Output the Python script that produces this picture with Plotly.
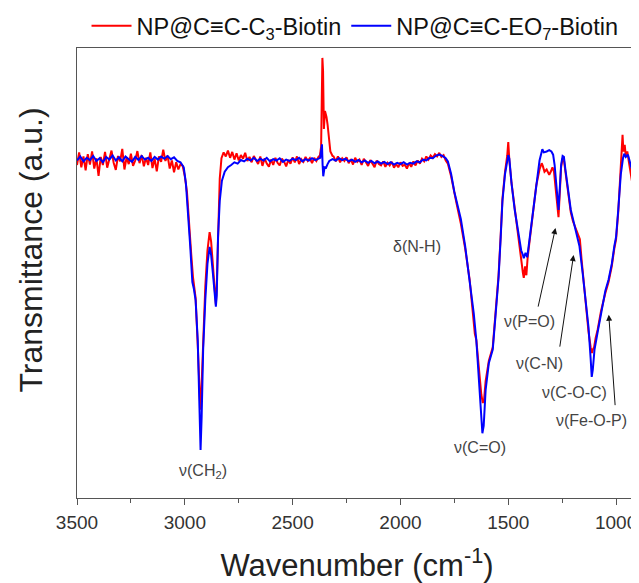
import plotly.graph_objects as go

# ---------------- data (wavenumber cm^-1, transmittance a.u.) ----------------
red_wn = [3500, 3490, 3480, 3470, 3460, 3450, 3440, 3430, 3420, 3410, 3400, 3390, 3380, 3370, 3360,
          3350, 3340, 3330, 3320, 3310, 3300, 3290, 3280, 3270, 3260, 3250, 3240, 3230, 3220, 3210,
          3200, 3190, 3180, 3170, 3160, 3150, 3140, 3130, 3120, 3110, 3100, 3090, 3080, 3070, 3060,
          3050, 3040, 3030, 3020,
          3010, 3000, 2990, 2980, 2970, 2962, 2957, 2950, 2940, 2932, 2928, 2923, 2915, 2905, 2895,
          2885, 2878, 2870, 2862, 2856, 2852, 2846, 2838, 2830, 2820, 2810, 2800, 2790, 2780, 2770,
          2760, 2750, 2740, 2730, 2720, 2710, 2700, 2690, 2680, 2670, 2660, 2650, 2640, 2630, 2620,
          2610, 2600, 2590, 2580, 2570, 2560, 2550, 2540, 2530, 2520, 2510, 2500, 2490, 2480, 2470,
          2460, 2450, 2440, 2430, 2420, 2410, 2400, 2390, 2380,
          2375, 2368, 2365, 2362, 2359, 2355, 2350, 2343, 2338, 2332, 2325, 2315,
          2310, 2300, 2290, 2280, 2270, 2260, 2250, 2240, 2230, 2220, 2210, 2200, 2190, 2180, 2170,
          2160, 2150, 2140, 2130, 2120, 2110, 2100, 2090, 2080, 2070, 2060, 2050, 2040, 2030, 2020,
          2010, 2000, 1990, 1980, 1970, 1960, 1950, 1940, 1930, 1920, 1910, 1900, 1890, 1880, 1870,
          1860, 1850, 1840, 1830, 1820, 1810, 1800, 1790, 1780,
          1765, 1750, 1740, 1720, 1700, 1679, 1665, 1655, 1648, 1635, 1625, 1618, 1612, 1605, 1590,
          1572, 1560, 1545, 1535, 1527, 1515, 1505, 1500, 1495, 1485, 1470, 1455, 1440, 1432, 1428,
          1422, 1416, 1410, 1400, 1385, 1370, 1355, 1345, 1340, 1332, 1322, 1315, 1310, 1302, 1295,
          1288, 1280, 1272, 1267, 1262, 1255, 1248, 1242, 1235, 1222, 1210, 1200, 1185, 1175, 1168,
          1160, 1150, 1140, 1128, 1118, 1112, 1108, 1102, 1095, 1085, 1070, 1062, 1050, 1035, 1020,
          1008, 1000, 990, 980, 973, 970, 966, 960, 955, 948, 940, 932, 925, 918, 910, 903]
red_t = [74.0, 76.8, 73.5, 75.9, 72.8, 76.4, 74.1, 77.0, 73.2, 75.5, 71.6, 75.8, 74.0, 76.9, 73.4,
         75.2, 77.2, 74.5, 72.9, 76.0, 74.8, 77.6, 73.0, 75.7, 74.2, 76.5, 73.8, 75.0, 77.1, 74.4,
         76.2, 73.7, 75.6, 74.0, 76.8, 73.3, 75.4, 72.6, 75.9, 74.7, 77.4, 74.9, 76.1, 73.2, 75.0,
         72.4, 74.6, 73.0, 74.2,
         73.8, 71.5, 68.0, 62.0, 54.0, 49.0, 47.0, 44.5, 34.0, 22.0, 19.6, 24.0, 36.0, 47.0, 55.0,
         59.1, 57.0, 52.0, 47.0, 43.0, 47.0, 60.0, 71.0, 75.5, 76.8, 75.9, 77.2, 75.6, 76.9, 75.2,
         76.6, 75.0, 76.2, 75.4, 76.7, 74.9, 75.8, 74.6, 76.0, 75.1, 74.2, 75.9, 73.8, 75.5, 74.3,
         73.6, 75.2, 74.0, 75.6, 74.5, 73.9, 75.4, 74.8, 73.7, 75.1, 74.3, 75.7, 74.6, 75.9, 74.2,
         75.3, 74.7, 75.8, 74.9, 75.5, 74.4, 75.6, 74.9, 75.8,
         75.6, 78.0, 88.0, 97.8, 95.0, 82.0, 86.0, 84.7, 83.0, 80.0, 77.0, 76.0,
         75.9, 74.8, 75.9, 74.6, 75.5, 74.9, 75.7, 74.4, 75.3, 74.1, 75.6, 74.7, 75.2, 74.0, 75.4,
         74.6, 73.8, 75.1, 74.3, 73.5, 75.0, 74.2, 73.9, 74.8, 73.6, 74.5, 73.9, 74.7, 73.4, 74.2,
         73.5, 74.6, 73.8, 74.1, 73.2, 74.4, 73.6, 74.8, 73.9, 75.0, 74.3, 75.4, 74.8, 75.9, 75.2,
         76.1, 75.6, 76.4, 75.9, 76.7, 75.8, 76.2, 75.0, 74.3,
         71.5, 67.5, 65.5, 61.0, 55.5, 48.5, 42.0, 36.5, 35.1, 28.0, 23.0, 21.1, 22.0, 26.0, 30.5,
         33.5, 40.5, 49.5, 58.5, 66.5, 72.5, 76.0, 79.1, 75.0, 70.0, 64.0, 58.5, 53.0, 50.0, 48.9,
         51.5, 49.5, 53.5, 57.5, 63.5, 69.5, 73.0, 74.4, 73.8, 72.5, 73.0, 72.2, 71.8, 72.6, 73.5,
         72.5, 69.0, 64.5, 62.4, 67.0, 73.5, 75.5, 75.2, 72.5, 67.5, 63.5, 61.5, 59.5, 58.0, 57.5,
         53.0, 47.5, 43.0, 37.0, 33.5, 32.2, 33.0, 33.5, 35.5, 37.5, 41.5, 43.3, 45.5, 48.0, 51.5,
         55.5, 57.5, 63.5, 71.0, 76.5, 80.7, 77.0, 78.5, 76.0, 77.0, 74.5, 72.0, 70.0, 73.5, 76.5, 77.3]

blue_wn = [3500, 3485, 3470, 3455, 3440, 3425, 3410, 3395, 3380, 3365, 3350, 3335, 3320, 3305, 3290,
           3275, 3260, 3245, 3230, 3215, 3200, 3185, 3170, 3155, 3140, 3125, 3110, 3095, 3080, 3065,
           3050, 3035, 3020,
           3005, 2995, 2985, 2975, 2965, 2958, 2950, 2940, 2932, 2927, 2922, 2915, 2905, 2895, 2885,
           2878, 2870, 2862, 2856, 2852, 2846, 2838, 2828, 2815, 2800, 2785, 2770, 2755, 2740, 2725,
           2710, 2695, 2680, 2665, 2650, 2635, 2620, 2605, 2590, 2575, 2560, 2545, 2530, 2515, 2500,
           2485, 2470, 2455, 2440, 2425, 2410, 2395, 2380,
           2372, 2367, 2364, 2361, 2358, 2352, 2345, 2338,
           2330, 2315, 2300, 2285, 2270, 2255, 2240, 2225, 2210, 2195, 2180, 2165, 2150, 2135, 2120,
           2105, 2090, 2075, 2060, 2045, 2030, 2015, 2000, 1985, 1970, 1955, 1940, 1925, 1910, 1895,
           1880, 1865, 1850, 1835, 1820, 1805, 1790, 1780,
           1765, 1750, 1740, 1720, 1700, 1679, 1660, 1648, 1635, 1625, 1620, 1614, 1605, 1590, 1572,
           1560, 1545, 1535, 1527, 1515, 1505, 1500, 1495, 1485, 1470, 1455, 1440, 1432, 1428, 1420,
           1412, 1400, 1385, 1370, 1355, 1342, 1335, 1322, 1310, 1300, 1292, 1285, 1278, 1272, 1267,
           1262, 1255, 1248, 1242, 1235, 1222, 1210, 1200, 1185, 1170, 1155, 1140, 1128, 1118, 1113,
           1108, 1100, 1085, 1070, 1062, 1050, 1035, 1020, 1008, 1000, 990, 978, 968, 962, 955, 945,
           935, 928, 922, 912, 903]
blue_t = [75.0, 75.9, 74.8, 75.6, 75.1, 76.0, 74.9, 75.5, 74.6, 75.8, 75.2, 76.1, 75.0, 75.7, 74.8,
          75.9, 75.3, 74.7, 75.8, 75.1, 76.0, 75.2, 75.6, 74.9, 75.8, 75.2, 75.9, 75.4, 76.0, 75.3,
          75.7, 74.9, 74.6,
          73.5, 70.0, 64.0, 56.0, 48.0, 46.5, 44.0, 35.0, 20.0, 10.7, 18.0, 33.0, 44.0, 52.0, 55.8,
          54.0, 50.0, 46.0, 42.5, 45.0, 58.0, 66.0, 70.5, 72.5, 73.5, 74.0, 74.6, 74.3, 75.1, 74.8,
          75.4, 75.0, 75.6, 74.9, 75.4, 75.0, 75.6, 74.8, 75.3, 75.0, 75.5, 74.7, 75.2, 74.9, 75.4,
          75.1, 75.6, 74.8, 75.3, 75.0, 75.5, 75.1, 75.4,
          75.6, 77.5, 78.6, 74.0, 71.5, 73.5, 73.4, 74.2,
          74.9, 75.3, 75.0, 75.5, 75.1, 75.4, 74.8, 75.2, 74.7, 75.1, 74.6, 75.0, 74.5, 74.9, 74.4,
          74.8, 74.3, 74.7, 74.2, 74.6, 74.1, 74.5, 74.2, 74.6, 74.1, 74.5, 74.3, 74.8, 74.6, 75.2,
          75.0, 75.6, 75.5, 76.1, 76.3, 76.0, 75.5, 74.8,
          72.0, 68.0, 66.0, 62.0, 56.0, 48.0, 41.0, 35.0, 25.0, 18.0, 14.4, 16.0, 24.0, 30.0, 33.0,
          40.0, 49.0, 58.0, 66.0, 72.0, 75.5, 76.2, 75.4, 70.0, 64.0, 59.0, 55.0, 54.0, 53.3, 54.5,
          53.5, 58.0, 64.0, 70.0, 75.0, 77.5, 76.8, 77.0, 77.3, 77.0, 76.3, 74.0, 70.0, 65.0, 64.0,
          68.0, 74.0, 76.0, 75.8, 73.0, 68.0, 64.0, 62.0, 59.0, 56.0, 50.0, 44.0, 38.0, 31.0, 26.9,
          28.5, 33.0, 37.0, 41.0, 43.0, 46.0, 48.5, 52.0, 56.0, 58.0, 64.0, 72.0, 75.5, 76.5, 75.8, 76.3,
          74.5, 73.2, 74.8, 76.5, 76.0]

red_name = "NP@C\u2261C-C<sub>3</sub>-Biotin"
blue_name = "NP@C\u2261C-EO<sub>7</sub>-Biotin"
x_ticks = [3500, 3000, 2500, 2000, 1500, 1000]

# band labels: (text, wavenumber, transmittance)
labels = [("\u03bd(CH<sub>2</sub>)", 2915, 6.0),
          ("\u03bd(C=O)", 1633, 11.3),
          ("\u03b4(N-H)", 1925, 55.8),
          ("\u03bd(P=O)", 1401, 39.2),
          ("\u03bd(C-N)", 1355, 30.0),
          ("\u03bd(C-O-C)", 1192, 23.4),
          ("\u03bd(Fe-O-P)", 1115, 17.3)]
# arrows: (tip wn, tip T, tail wn, tail T)
arrows = [(1281, 60.0, 1363, 42.2),
          (1197, 54.0, 1262, 33.3),
          (1034, 40.7, 1004, 20.3)]

FONT = "Liberation Sans, Arial, sans-serif"

fig = go.Figure()
fig.add_trace(go.Scatter(x=red_wn, y=red_t, mode="lines", name=red_name,
                         line=dict(color="#ff0000", width=2)))
fig.add_trace(go.Scatter(x=blue_wn, y=blue_t, mode="lines", name=blue_name,
                         line=dict(color="#0000ff", width=2)))

for txt, wx, ty in labels:
    fig.add_annotation(x=wx, y=ty, text=txt, showarrow=False,
                       font=dict(family=FONT, size=16, color="#444444"))
for tx, ty, ax, ay in arrows:
    fig.add_annotation(x=tx, y=ty, ax=ax, ay=ay, xref="x", yref="y", axref="x", ayref="y",
                       text="", showarrow=True, arrowhead=2, arrowsize=1.2, arrowwidth=1,
                       arrowcolor="#111111")

# y-axis title (placed as in the reference, slightly above the axis centre)
fig.add_annotation(xref="paper", yref="paper", x=-0.082, y=0.55, xanchor="center", yanchor="middle",
                   text="Transmittance (a.u.)", textangle=-90, showarrow=False,
                   font=dict(family=FONT, size=32, color="#222222"))

# the page body adds an 8px offset, so the figure is 8px smaller than the window
fig.update_layout(
    width=631, height=575,
    margin=dict(l=69, r=2, t=40, b=85, autoexpand=False),
    plot_bgcolor="white", paper_bgcolor="white",
    font=dict(family=FONT, color="#222222"),
    showlegend=True,
    legend=dict(orientation="h", x=0.017, y=1.0, xanchor="left", yanchor="bottom",
                font=dict(family=FONT, size=23.5, color="#111111"), bgcolor="rgba(0,0,0,0)",
                itemwidth=40, tracegroupgap=0),
    xaxis=dict(range=[3500, 903], showgrid=False, zeroline=False, automargin=False,
               showline=True, linecolor="#555555", linewidth=1, mirror=True,
               ticks="outside", ticklen=6, tickcolor="#555555", tickwidth=1,
               tickvals=x_ticks, ticklabelstandoff=1,
               minor=dict(ticks="outside", ticklen=4, dtick=250, tick0=0, tickcolor="#555555"),
               tickfont=dict(family=FONT, size=19, color="#333333"),
               title=dict(text="Wavenumber (cm<sup>-1</sup>)",
                          font=dict(family=FONT, size=31, color="#222222"), standoff=28)),
    yaxis=dict(range=[0, 100], showgrid=False, zeroline=False, automargin=False,
               showline=True, linecolor="#555555", linewidth=1, mirror=True,
               ticks="", showticklabels=False),
)

fig.write_html("out.html")
